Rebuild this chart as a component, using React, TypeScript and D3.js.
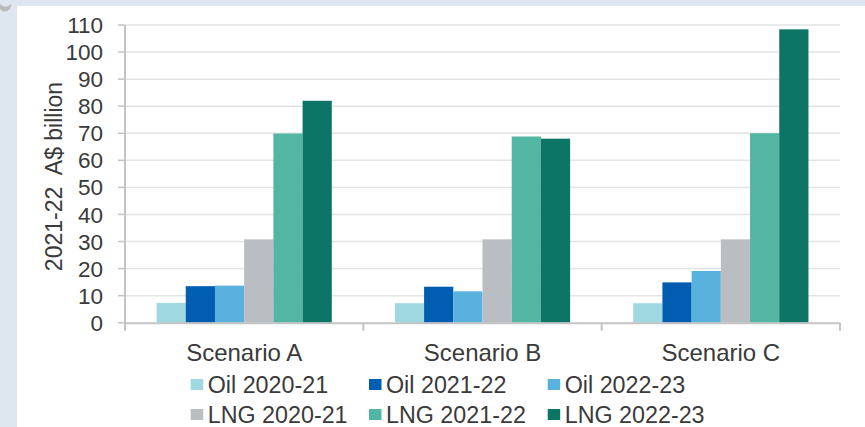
import React from "react";
import * as d3 from "d3";

const categories = ["Scenario A", "Scenario B", "Scenario C"];
const seriesNames = ["Oil 2020-21", "Oil 2021-22", "Oil 2022-23", "LNG 2020-21", "LNG 2021-22", "LNG 2022-23"];
const oil2021 = [7.3, 7.2, 7.2];
const oil2122 = [13.5, 13.3, 14.9];
const oil2223 = [13.7, 11.6, 19.1];
const lng2021 = [30.8, 30.8, 30.8];
const lng2122 = [69.9, 68.8, 70.0];
const lng2223 = [82.0, 68.0, 108.4];
const seriesValues = [oil2021, oil2122, oil2223, lng2021, lng2122, lng2223];
const colors = ["#9fd8e0", "#005db0", "#59b2de", "#babdc1", "#52b6a2", "#0d7565"];
const yTicks = [0, 10, 20, 30, 40, 50, 60, 70, 80, 90, 100, 110];

const W = 865;
const H = 427;
const FONT = "'Liberation Sans', Arial, sans-serif";
const TEXT = "#3a3a3a";

export default function App() {
  const left = 125, right = 840, top = 25, bottom = 322.7;
  const y = d3.scaleLinear().domain([0, 110]).range([bottom, top]);
  const x0 = d3.scaleBand().domain(categories).range([left, right]).padding(0);
  const x1 = d3.scaleBand().domain(seriesNames).range([0, x0.bandwidth()]).paddingInner(0).paddingOuter(1.08);

  const legendCols = [190.7, 369, 547.7];
  const legendRows = [384.5, 414.5];

  return (
    <svg width={W} height={H} style={{ position: "absolute", left: 0, top: 0, display: "block" }} fontFamily={FONT}>
      <rect x={0} y={0} width={W} height={H} fill="#dee7f0" />
      <rect x={17} y={6} width={W - 17} height={H - 6} fill="#ffffff" />
      <path d="M0,4 Q6,10 12,3 L10,9 Q4,14 0,9 Z" fill="#b9bcbf" />
      {/* gridlines */}
      {yTicks.slice(1).map((t) => (
        <line key={"g" + t} x1={left} x2={right} y1={y(t)} y2={y(t)} stroke="#e3e3e3" strokeWidth={1.5} />
      ))}
      {/* bars */}
      {seriesNames.map((s, si) =>
        categories.map((c, ci) => {
          const v = seriesValues[si][ci];
          return (
            <rect
              key={s + c}
              x={(x0(c) as number) + (x1(s) as number)}
              y={y(v)}
              width={x1.bandwidth()}
              height={y(0) - y(v)}
              fill={colors[si]}
            />
          );
        })
      )}
      {/* y axis */}
      <line x1={left} x2={left} y1={top} y2={bottom + 1} stroke="#c4c4c4" strokeWidth={2} />
      {yTicks.map((t) => (
        <g key={"t" + t}>
          <line x1={left - 7} x2={left} y1={y(t)} y2={y(t)} stroke="#c4c4c4" strokeWidth={1.5} />
          <text x={103} y={y(t)} dy="0.36em" textAnchor="end" fontSize={22.5} fill={TEXT}>
            {t}
          </text>
        </g>
      ))}
      {/* x axis */}
      <line x1={left} x2={right} y1={bottom + 0.5} y2={bottom + 0.5} stroke="#c4c4c4" strokeWidth={2} />
      {[...categories.map((c) => x0(c) as number), right].map((xv, i) => (
        <line key={"xt" + i} x1={xv} x2={xv} y1={bottom} y2={bottom + 8} stroke="#c4c4c4" strokeWidth={2} />
      ))}
      {categories.map((c) => (
        <text key={c} x={(x0(c) as number) + x0.bandwidth() / 2} y={360.7} textAnchor="middle" fontSize={24} fill={TEXT}>
          {c}
        </text>
      ))}
      {/* y title */}
      <text
        transform={`translate(61.5,${176.5}) rotate(-90)`}
        textAnchor="middle"
        fontSize={23}
        fill={TEXT}
        style={{ whiteSpace: "pre" }}
      >
        {"2021-22  A$ billion"}
      </text>
      {/* legend */}
      {seriesNames.map((s, i) => {
        const col = i % 3;
        const row = Math.floor(i / 3);
        const lx = legendCols[col];
        const ly = legendRows[row];
        return (
          <g key={"l" + s}>
            <rect x={lx} y={ly - 5.5} width={12.5} height={11} fill={colors[i]} />
            <text x={lx + 17} y={ly} dy="0.36em" fontSize={23.3} fill={TEXT}>
              {s}
            </text>
          </g>
        );
      })}
    </svg>
  );
}
